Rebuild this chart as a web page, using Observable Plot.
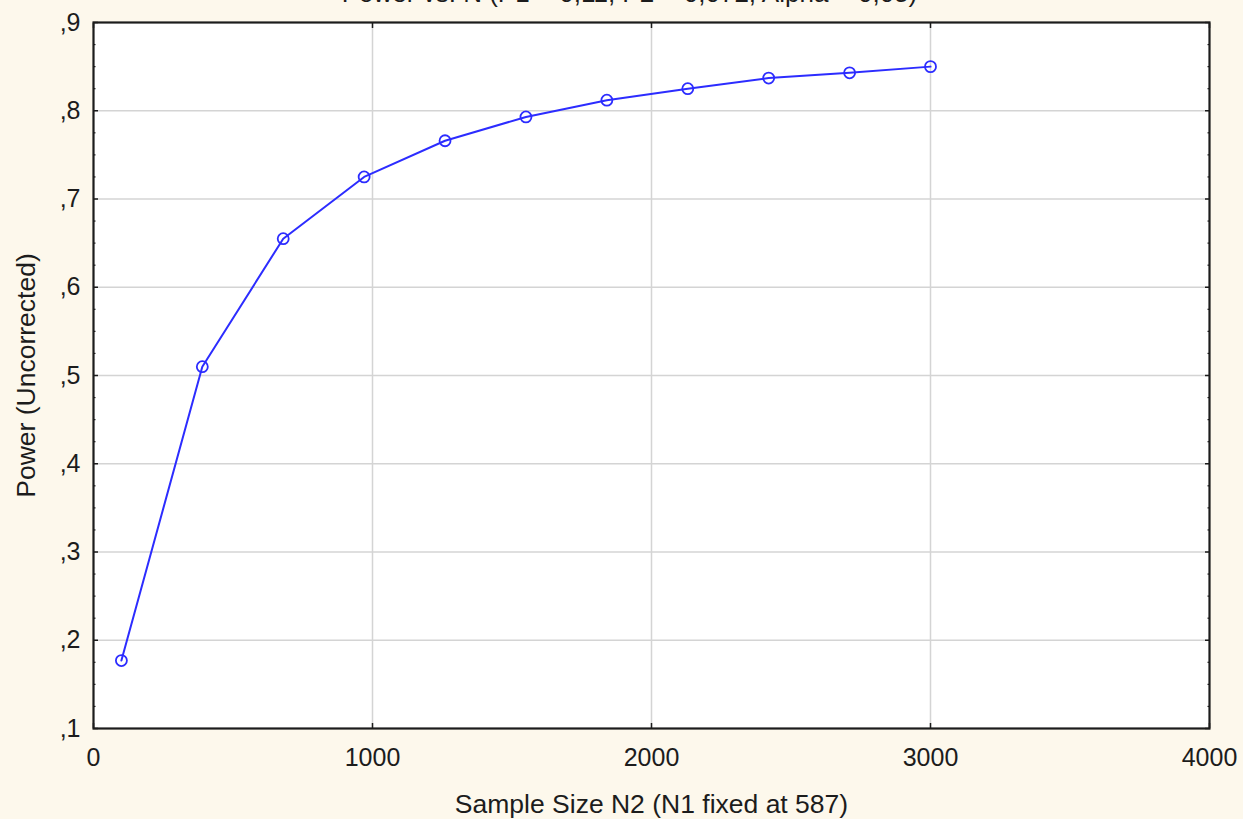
<!DOCTYPE html>
<html><head><meta charset="utf-8">
<script src="https://cdn.jsdelivr.net/npm/d3@7"></script>
<script src="https://cdn.jsdelivr.net/npm/@observablehq/plot@0.6"></script>
<style>html,body{margin:0;padding:0;background:#fdf8ec;overflow:hidden;}</style>
</head><body><div id="chart"></div>
<script>
const title = "Power vs. N (P1 = 0,11, P2 = 0,072, Alpha = 0,05)";
const xLabel = "Sample Size N2 (N1 fixed at 587)";
const yLabel = "Power (Uncorrected)";
const sampleSizeN2 = [100, 390, 680, 970, 1260, 1550, 1840, 2130, 2420, 2710, 3000];
const power = [0.177, 0.510, 0.655, 0.725, 0.766, 0.793, 0.812, 0.825, 0.837, 0.843, 0.850];
const xTicks = [0, 1000, 2000, 3000, 4000];
const xTickLabels = ["0", "1000", "2000", "3000", "4000"];
const yTicks = [0.1, 0.2, 0.3, 0.4, 0.5, 0.6, 0.7, 0.8, 0.9];
const yTickLabels = [",1", ",2", ",3", ",4", ",5", ",6", ",7", ",8", ",9"];
const xGrid = [1000, 2000, 3000];
const yGrid = [0.2, 0.3, 0.4, 0.5, 0.6, 0.7, 0.8];
const yMinor = d3.range(0, 33).map(i => 0.1 + i * 0.025).filter((v, i) => i % 4 !== 0);

const data = sampleSizeN2.map((n, i) => ({n, p: power[i]}));
const lineColor = "#2c2cff";
const ink = "#1c1c1c";
const tickOpts = {tickFormat: () => "", label: null, stroke: ink};

const chart = Plot.plot({
  width: 1243,
  height: 819,
  marginLeft: 93,
  marginRight: 34,
  marginTop: 22,
  marginBottom: 91,
  x: {domain: [0, 4000], axis: null},
  y: {domain: [0.1, 0.9], axis: null},
  style: {fontFamily: "'Liberation Sans', Arial, sans-serif", fontSize: "25px", background: "#fdf8ec", color: ink},
  marks: [
    Plot.frame({fill: "white", stroke: null}),
    Plot.gridX(xGrid, {stroke: "#d4d4d4", strokeOpacity: 1, strokeWidth: 1.5}),
    Plot.gridY(yGrid, {stroke: "#d4d4d4", strokeOpacity: 1, strokeWidth: 1.5}),
    Plot.line(data, {x: "n", y: "p", stroke: lineColor, strokeWidth: 2}),
    Plot.dot(data, {x: "n", y: "p", r: 5.5, stroke: lineColor, strokeWidth: 1.8, fill: "none"}),
    Plot.frame({stroke: ink, strokeWidth: 2.2}),
    Plot.axisX(xTicks, {anchor: "bottom", tickSize: -5, strokeWidth: 1.5, ...tickOpts}),
    Plot.axisX(xTicks, {anchor: "top", tickSize: -5, strokeWidth: 1.5, ...tickOpts}),
    Plot.axisY(yTicks, {anchor: "left", tickSize: -5, strokeWidth: 1.5, ...tickOpts}),
    Plot.axisY(yTicks, {anchor: "right", tickSize: -5, strokeWidth: 1.5, ...tickOpts}),
    Plot.axisY(yMinor, {anchor: "left", tickSize: -2.5, strokeWidth: 1.2, ...tickOpts}),
    Plot.axisY(yMinor, {anchor: "right", tickSize: -2.5, strokeWidth: 1.2, ...tickOpts}),
    Plot.text(xTicks, {x: d => d, text: (d, i) => xTickLabels[i], frameAnchor: "bottom", dy: 29, lineAnchor: "middle", fill: ink}),
    Plot.text(yTicks, {y: d => d, text: (d, i) => yTickLabels[i], frameAnchor: "left", dx: -13, textAnchor: "end", lineAnchor: "middle", fill: ink}),
    Plot.text([xLabel], {frameAnchor: "bottom", dy: 76, lineAnchor: "middle", textAnchor: "middle", fill: ink, fontSize: 26.5}),
    Plot.text([yLabel], {frameAnchor: "left", dx: -67, rotate: -90, lineAnchor: "middle", textAnchor: "middle", fill: ink, fontSize: 26.5}),
    Plot.text([title], {frameAnchor: "top", dx: -22, dy: -21, lineAnchor: "bottom", textAnchor: "middle", fill: ink, fontSize: 26})
  ]
});
document.getElementById("chart").appendChild(chart);
</script>
</body></html>
